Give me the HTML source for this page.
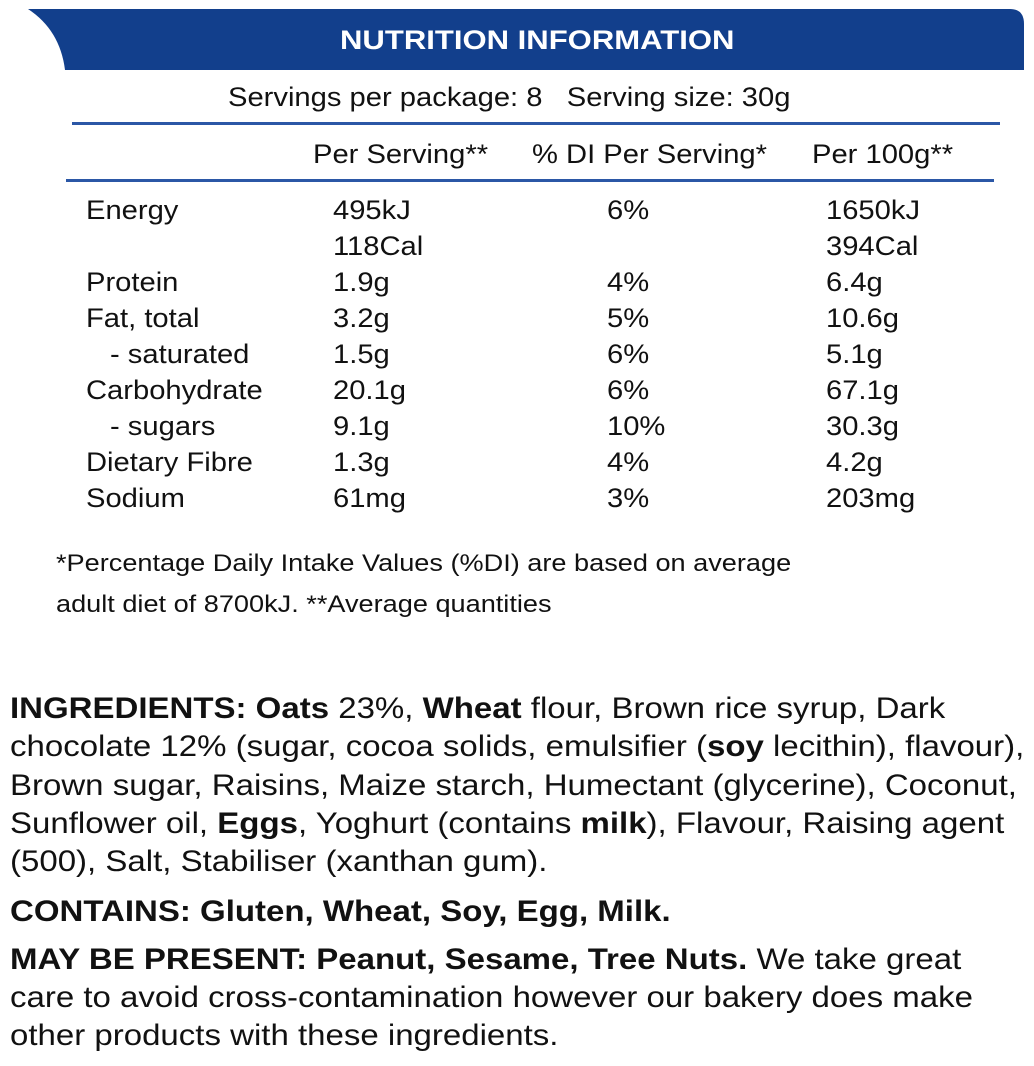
<!DOCTYPE html>
<html><head><meta charset="utf-8"><style>
body{margin:0;width:1034px;height:1066px;background:#fff;position:relative;overflow:hidden;font-family:"Liberation Sans",sans-serif;color:#111}
.t{position:absolute;white-space:nowrap;line-height:1;transform-origin:0 50%}
.n{font-size:27px;transform:scaleX(1.08)}
.f{font-size:24px;transform:scaleX(1.13)}
.i{font-size:30px;transform:scaleX(1.10)}
b{font-weight:bold}
.hr{position:absolute;height:3px;background:#2b57a6}
</style></head><body>
<svg style="position:absolute;left:0;top:0" width="1034" height="80">
<path d="M28 9 L1010 9 Q1024 9 1024 24 L1024 70 L65 70 Q60 30 28 9 Z" fill="#123f8c"/>
</svg>
<div class="t" style="left:340px;top:27px;font-size:27px;font-weight:bold;color:#fff;transform:scaleX(1.15)">NUTRITION INFORMATION</div>
<div class="t n" style="left:228px;top:84px">Servings per package: 8&nbsp;&nbsp;&nbsp;Serving size: 30g</div>
<div class="hr" style="left:72px;top:122px;width:928px"></div>
<div class="t n" style="left:313px;top:141px">Per Serving**</div>
<div class="t n" style="left:532px;top:141px">% DI Per Serving*</div>
<div class="t n" style="left:812px;top:141px">Per 100g**</div>
<div class="hr" style="left:66px;top:179px;width:928px"></div>

<div class="t n" style="left:86px;top:197px">Energy</div><div class="t n" style="left:333px;top:197px">495kJ</div><div class="t n" style="left:607px;top:197px">6%</div><div class="t n" style="left:826px;top:197px">1650kJ</div>
<div class="t n" style="left:333px;top:233px">118Cal</div><div class="t n" style="left:826px;top:233px">394Cal</div>
<div class="t n" style="left:86px;top:269px">Protein</div><div class="t n" style="left:333px;top:269px">1.9g</div><div class="t n" style="left:607px;top:269px">4%</div><div class="t n" style="left:826px;top:269px">6.4g</div>
<div class="t n" style="left:86px;top:305px">Fat, total</div><div class="t n" style="left:333px;top:305px">3.2g</div><div class="t n" style="left:607px;top:305px">5%</div><div class="t n" style="left:826px;top:305px">10.6g</div>
<div class="t n" style="left:110px;top:341px">- saturated</div><div class="t n" style="left:333px;top:341px">1.5g</div><div class="t n" style="left:607px;top:341px">6%</div><div class="t n" style="left:826px;top:341px">5.1g</div>
<div class="t n" style="left:86px;top:377px">Carbohydrate</div><div class="t n" style="left:333px;top:377px">20.1g</div><div class="t n" style="left:607px;top:377px">6%</div><div class="t n" style="left:826px;top:377px">67.1g</div>
<div class="t n" style="left:110px;top:413px">- sugars</div><div class="t n" style="left:333px;top:413px">9.1g</div><div class="t n" style="left:607px;top:413px">10%</div><div class="t n" style="left:826px;top:413px">30.3g</div>
<div class="t n" style="left:86px;top:449px">Dietary Fibre</div><div class="t n" style="left:333px;top:449px">1.3g</div><div class="t n" style="left:607px;top:449px">4%</div><div class="t n" style="left:826px;top:449px">4.2g</div>
<div class="t n" style="left:86px;top:485px">Sodium</div><div class="t n" style="left:333px;top:485px">61mg</div><div class="t n" style="left:607px;top:485px">3%</div><div class="t n" style="left:826px;top:485px">203mg</div>

<div class="t f" style="left:56px;top:552px">*Percentage Daily Intake Values (%DI) are based on average</div>
<div class="t f" style="left:56px;top:593px">adult diet of 8700kJ. **Average quantities</div>

<div class="t i" style="left:10px;top:694px"><b>INGREDIENTS: Oats</b> 23%, <b>Wheat</b> flour, Brown rice syrup, Dark</div>
<div class="t i" style="left:10px;top:732px">chocolate 12% (sugar, cocoa solids, emulsifier (<b>soy</b> lecithin), flavour),</div>
<div class="t i" style="left:10px;top:771px">Brown sugar, Raisins, Maize starch, Humectant (glycerine), Coconut,</div>
<div class="t i" style="left:10px;top:809px">Sunflower oil, <b>Eggs</b>, Yoghurt (contains <b>milk</b>), Flavour, Raising agent</div>
<div class="t i" style="left:10px;top:847px">(500), Salt, Stabiliser (xanthan gum).</div>
<div class="t i" style="left:10px;top:897px"><b>CONTAINS: Gluten, Wheat, Soy, Egg, Milk.</b></div>
<div class="t i" style="left:10px;top:945px"><b>MAY BE PRESENT: Peanut, Sesame, Tree Nuts.</b> We take great</div>
<div class="t i" style="left:10px;top:983px">care to avoid cross-contamination however our bakery does make</div>
<div class="t i" style="left:10px;top:1021px">other products with these ingredients.</div>
</body></html>
